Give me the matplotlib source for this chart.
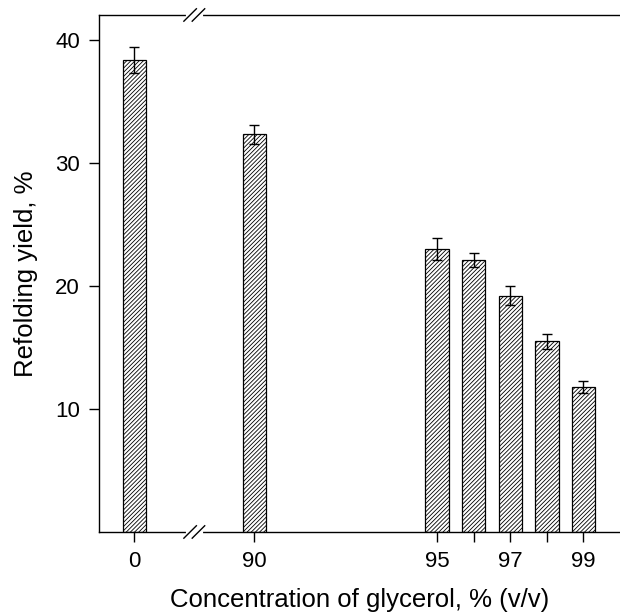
import numpy as np
import matplotlib.pyplot as plt

plt.rcParams['font.family'] = ['Liberation Sans', 'DejaVu Sans']
plt.rcParams['hatch.linewidth'] = 0.6

# data
konsentrasjon = [0, 90, 95, 96, 97, 98, 99]
utbytte = [38.35, 32.3, 23.0, 22.1, 19.2, 15.5, 11.75]
feil = [1.05, 0.8, 0.9, 0.6, 0.8, 0.6, 0.5]
tickLabels = ['0', '90', '95', '', '97', '', '99']

# 0 sits left of the axis break, the rest on a linear scale
posisjon = [86.72 if c == 0 else c for c in konsentrasjon]

fig = plt.figure(figsize=(6.2, 6.14), dpi=100)
ax = fig.add_axes([0.16, 0.1336, 0.84, 0.842])

ax.bar(posisjon, utbytte, width=0.64, color='white', edgecolor='black',
       hatch='////////', linewidth=0.9, zorder=2)
ax.errorbar(posisjon, utbytte, yerr=feil, fmt='none', ecolor='black',
            elinewidth=1, capsize=3.3, capthick=1, zorder=3)

ax.set_xlim(85.76, 100.0)
ax.set_ylim(0, 42)
ax.set_yticks([10, 20, 30, 40])
ax.set_xticks(posisjon)
ax.set_xticklabels(tickLabels)
ax.tick_params(direction='out', length=7, width=1, labelsize=16, pad=7)
ax.spines['right'].set_visible(False)
for s in ['left', 'top', 'bottom']:
    ax.spines[s].set_linewidth(1)

ax.set_xlabel('Concentration of glycerol, % (v/v)', fontsize=18.5, labelpad=11)
ax.set_ylabel('Refolding yield, %', fontsize=18.5, labelpad=12)

# break marks on top and bottom spine
xb = (88.36 - 85.76) / (100.0 - 85.76)
for yb in [0, 1]:
    ax.plot([xb - 0.012, xb + 0.012], [yb, yb], color='white', lw=3,
            transform=ax.transAxes, clip_on=False, zorder=5)
    for dx in [-0.008, 0.008]:
        ax.plot([xb + dx - 0.012, xb + dx + 0.012], [yb - 0.012, yb + 0.012],
                color='black', lw=1, transform=ax.transAxes, clip_on=False, zorder=6)

fig.savefig('out.png')
